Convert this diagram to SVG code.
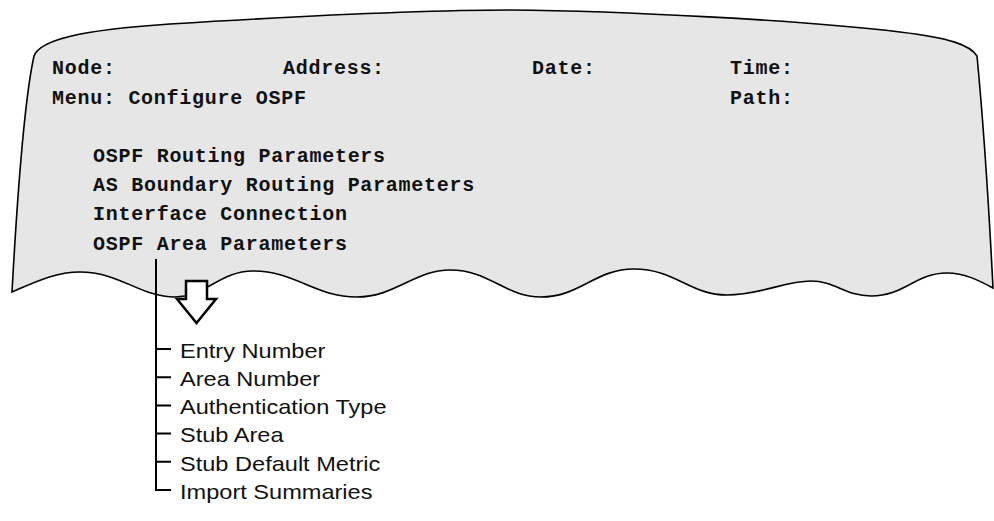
<svg xmlns="http://www.w3.org/2000/svg" width="994" height="521" viewBox="0 0 994 521">
<style>
.scr{font-family:"Liberation Mono","Courier New",monospace;font-weight:bold;font-size:20px;letter-spacing:0.73px;fill:#111}
.itm{font-family:"Liberation Sans",Arial,sans-serif;font-size:20.5px;fill:#111}
.ln{stroke:#000;stroke-width:2;fill:none}
</style>
<rect width="994" height="521" fill="#fff"/>
<g id="screen">
<path d="M 12,292 C 35,282 55,272 80,272 C 120,272 140,297 175,297 C 205,297 220,271 253,271 C 295,271 315,297 357,297 C 395,297 415,270 450,270 C 490,270 505,297 541,297 C 580,297 595,269 634,269 C 675,269 690,295 727,295 C 760,295 785,281 811,281 C 835,281 845,296 871,296 C 905,296 915,273 947,273 C 965,273 980,281 993,288 Q 986,150 977,56 C 970,45 950,38 900,32 C 800,20 620,11 510,10 C 420,10 300,16 170,24 C 80,30 40,40 34,56 Q 22,110 12,292 Z" fill="#e6e6e6" stroke="#000" stroke-width="1.6"/>
<text class="scr" x="52" y="74">Node:</text>
<text class="scr" x="283" y="74">Address:</text>
<text class="scr" x="532" y="74">Date:</text>
<text class="scr" x="730" y="74">Time:</text>
<text class="scr" x="52" y="104">Menu: Configure OSPF</text>
<text class="scr" x="730" y="104">Path:</text>
<text class="scr" x="93" y="162">OSPF Routing Parameters</text>
<text class="scr" x="93" y="191">AS Boundary Routing Parameters</text>
<text class="scr" x="93" y="220">Interface Connection</text>
<text class="scr" x="93" y="250">OSPF Area Parameters</text>
</g>
<g id="connectors">
<path class="ln" d="M 156,259 V 490 H 171"/>
<path class="ln" d="M 156,349 H 171 M 156,377.2 H 171 M 156,405.4 H 171 M 156,433.6 H 171 M 156,461.8 H 171"/>
<path d="M 186,281 H 207 V 299 H 216 L 196.5,323 L 177,299 H 186 Z" fill="#fff" stroke="#000" stroke-width="2.5" stroke-linejoin="miter"/>
</g>
<g id="item-entry-number"><text class="itm" transform="translate(180,357.7) scale(1.15,1)">Entry Number</text></g>
<g id="item-area-number"><text class="itm" transform="translate(180,385.9) scale(1.15,1)">Area Number</text></g>
<g id="item-authentication-type"><text class="itm" transform="translate(180,414.1) scale(1.15,1)">Authentication Type</text></g>
<g id="item-stub-area"><text class="itm" transform="translate(180,442.3) scale(1.15,1)">Stub Area</text></g>
<g id="item-stub-default-metric"><text class="itm" transform="translate(180,470.5) scale(1.15,1)">Stub Default Metric</text></g>
<g id="item-import-summaries"><text class="itm" transform="translate(180,498.7) scale(1.15,1)">Import Summaries</text></g>
</svg>
